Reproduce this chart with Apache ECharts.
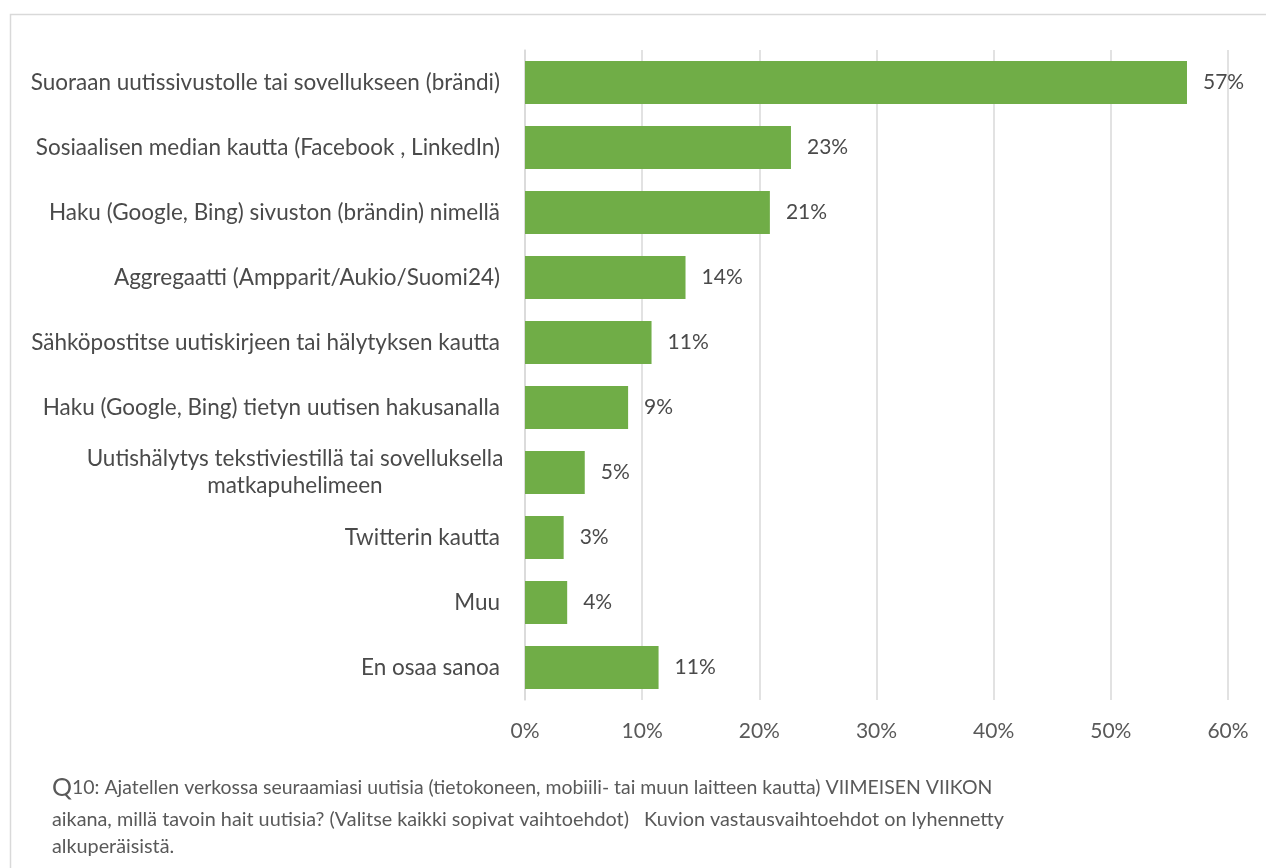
<!DOCTYPE html>
<html>
<head>
<meta charset="utf-8">
<script src="https://cdn.jsdelivr.net/npm/echarts@6/dist/echarts.min.js"></script>
<style>
    html, body { margin: 0; padding: 0; background: #fff; }
    #chart { width: 1266px; height: 868px; }
</style>
</head>
<body>
<div id="chart"></div>
<script>
    // vastausvaihtoehdot ylhäältä alas
    var categories = [
        'Suoraan uutissivustolle tai sovellukseen (brändi)',
        'Sosiaalisen median kautta (Facebook , LinkedIn)',
        'Haku (Google, Bing) sivuston (brändin) nimellä',
        'Aggregaatti (Ampparit/Aukio/Suomi24)',
        'Sähköpostitse uutiskirjeen tai hälytyksen kautta',
        'Haku (Google, Bing) tietyn uutisen hakusanalla',
        'Uutishälytys tekstiviestillä tai sovelluksella\nmatkapuhelimeen',
        'Twitterin kautta',
        'Muu',
        'En osaa sanoa'
    ];
    var shares = [56.5, 22.7, 20.9, 13.7, 10.8, 8.8, 5.1, 3.3, 3.6, 11.4];
    var shareLabels = ['57%', '23%', '21%', '14%', '11%', '9%', '5%', '3%', '4%', '11%'];
    var tickLabels = ['0%', '10%', '20%', '30%', '40%', '50%', '60%'];

    var font = 'Lato, "Open Sans", sans-serif';
    var chart = echarts.init(document.getElementById('chart'));

    var option = {
        animation: false,
        grid: { left: 525, right: 38, top: 50, bottom: 168, containLabel: false },
        xAxis: {
            type: 'value',
            min: 0,
            max: 60,
            interval: 10,
            axisLine: { show: false },
            axisTick: { show: false },
            splitLine: { lineStyle: { color: '#d9d9d9', width: 1.5 } },
            axisLabel: {
                margin: 21,
                fontFamily: font,
                fontSize: 21,
                color: '#595959',
                formatter: function (v) { return tickLabels[Math.round(v / 10)]; }
            }
        },
        yAxis: {
            type: 'category',
            inverse: true,
            data: categories,
            axisLine: { show: true, lineStyle: { color: '#d9d9d9', width: 1.5 } },
            axisTick: { show: false },
            axisLabel: {
                margin: 25,
                fontFamily: font,
                fontSize: 22.5,
                color: '#4a4a4a',
                lineHeight: 27,
                formatter: function (v) {
                    if (v.indexOf('\n') < 0) return v;
                    return v.split('\n').map(function (s) { return '{c|' + s + '}'; }).join('\n');
                },
                rich: {
                    c: { width: 410, align: 'center', fontFamily: font, fontSize: 22.5, color: '#4a4a4a', lineHeight: 27 }
                }
            }
        },
        series: [{
            type: 'bar',
            data: shares,
            barCategoryGap: '34%',
            itemStyle: { color: '#70ad47' },
            label: {
                show: true,
                position: 'right',
                distance: 16,
                fontFamily: font,
                fontSize: 21,
                color: '#4a4a4a',
                formatter: function (p) { return shareLabels[p.dataIndex]; }
            }
        }],
        graphic: [
            {
                type: 'rect',
                left: 8, top: 12,
                shape: { width: 1300, height: 900 },
                style: { fill: 'none', stroke: '#d9d9d9', lineWidth: 1.5 },
                z: -10
            },
            {
                type: 'text',
                left: 52, top: 775,
                style: {
                    text: '{q|Q}{n|10: Ajatellen verkossa seuraamiasi uutisia (tietokoneen, mobiili- tai muun laitteen kautta) VIIMEISEN VIIKON}',
                    rich: {
                        q: { fontFamily: font, fontSize: 25, fill: '#595959' },
                        n: { fontFamily: font, fontSize: 19.45, fill: '#595959' }
                    }
                }
            },
            {
                type: 'text',
                left: 52, top: 806,
                style: {
                    text: 'aikana, millä tavoin hait uutisia? (Valitse kaikki sopivat vaihtoehdot)   Kuvion vastausvaihtoehdot on lyhennetty\nalkuperäisistä.',
                    fontFamily: font,
                    fontSize: 19.8,
                    lineHeight: 27,
                    fill: '#595959'
                }
            }
        ]
    };

    chart.setOption(option);
</script>
</body>
</html>
